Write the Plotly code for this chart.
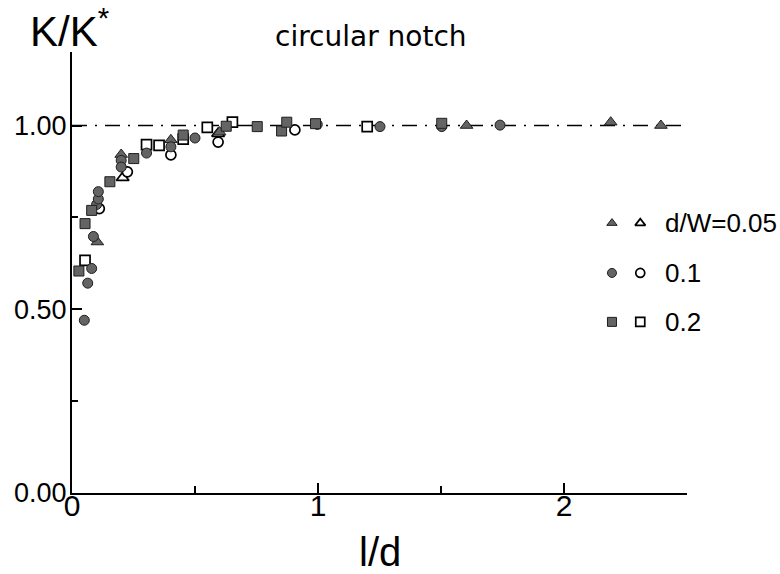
import plotly.graph_objects as go

# ---------------- data ----------------
# d/W = 0.05 (triangles)
tri_f_x = [0.103, 0.200, 0.402, 0.600, 1.604, 2.190, 2.394]
tri_f_y = [0.683, 0.921, 0.961, 0.982, 1.000, 1.009, 1.000]
tri_o_x = [0.206, 0.594]
tri_o_y = [0.858, 0.978]
# d/W = 0.1 (circles)
cir_f_x = [0.050, 0.064, 0.080, 0.087, 0.100, 0.107, 0.107, 0.200, 0.200, 0.303, 0.402, 0.500, 0.997, 1.252, 1.503, 1.740]
cir_f_y = [0.470, 0.571, 0.611, 0.698, 0.785, 0.800, 0.820, 0.905, 0.887, 0.925, 0.942, 0.966, 1.003, 0.997, 0.997, 1.001]
cir_o_x = [0.111, 0.225, 0.402, 0.594, 0.906]
cir_o_y = [0.774, 0.874, 0.920, 0.955, 0.988]
# d/W = 0.2 (squares)
sq_f_x = [0.028, 0.053, 0.080, 0.154, 0.251, 0.452, 0.627, 0.753, 0.852, 0.873, 0.990, 1.503]
sq_f_y = [0.604, 0.733, 0.769, 0.847, 0.910, 0.974, 0.998, 0.997, 0.985, 1.009, 1.005, 1.006]
sq_o_x = [0.053, 0.303, 0.354, 0.452, 0.550, 0.652, 1.200]
sq_o_y = [0.633, 0.948, 0.946, 0.963, 0.995, 1.009, 0.997]

# reference line K/K* = 1
ref_x = [0.0, 2.5]
ref_y = [1.0, 1.0]

x_ticks = [0, 1, 2]
x_minor = [0.5, 1.5, 2.5]
y_ticks = [0.0, 0.5, 1.0]
y_ticktext = ["0.00", "0.50", "1.00"]
y_minor = [0.25, 0.75]

legend_labels = ["d/W=0.05", "0.1", "0.2"]
legend_symbols = ["triangle-up", "circle", "square"]

# ---------------- style ----------------
FILL = "#646464"
FONT = "Liberation Sans"

def filled(sym, size):
    return dict(symbol=sym, size=size, color=FILL, line=dict(color="#1e1e1e", width=1))

def hollow(sym, size):
    return dict(symbol=sym, size=size, color="white", line=dict(color="black", width=1.7))

SIZES = {"triangle-up": 11, "circle": 10, "square": 10}

fig = go.Figure()

fig.add_trace(go.Scatter(x=ref_x, y=ref_y, mode="lines",
                         line=dict(color="black", width=1.5, dash="15px,8px,2px,8px"),
                         hoverinfo="skip"))

fig.add_trace(go.Scatter(x=tri_o_x, y=tri_o_y, mode="markers", marker=hollow("triangle-up", SIZES["triangle-up"])))
fig.add_trace(go.Scatter(x=cir_o_x, y=cir_o_y, mode="markers", marker=hollow("circle", SIZES["circle"])))
fig.add_trace(go.Scatter(x=sq_o_x, y=sq_o_y, mode="markers", marker=hollow("square", SIZES["square"])))
fig.add_trace(go.Scatter(x=tri_f_x, y=tri_f_y, mode="markers", marker=filled("triangle-up", SIZES["triangle-up"])))
fig.add_trace(go.Scatter(x=cir_f_x, y=cir_f_y, mode="markers", marker=filled("circle", SIZES["circle"])))
fig.add_trace(go.Scatter(x=sq_f_x, y=sq_f_y, mode="markers", marker=filled("square", SIZES["square"])))

# custom legend on an overlay axis spanning the plot area (0..1)
leg_x_f, leg_x_o, leg_x_t = 0.878, 0.924, 0.961
leg_rows = [0.612, 0.499, 0.388]
for lab, sym, ry in zip(legend_labels, legend_symbols, leg_rows):
    fig.add_trace(go.Scatter(x=[leg_x_f], y=[ry], mode="markers", marker=filled(sym, 9),
                             xaxis="x2", yaxis="y2", hoverinfo="skip"))
    fig.add_trace(go.Scatter(x=[leg_x_o], y=[ry], mode="markers", marker=hollow(sym, 9),
                             xaxis="x2", yaxis="y2", hoverinfo="skip"))
    fig.add_annotation(x=leg_x_t, y=ry, xref="x2", yref="y2", text=lab, showarrow=False,
                       xanchor="left", yanchor="middle", font=dict(family=FONT, size=26, color="black"))

fig.update_layout(
    width=780, height=574,
    margin=dict(l=72, r=93, t=52, b=81),
    paper_bgcolor="white", plot_bgcolor="white",
    showlegend=False,
    xaxis=dict(range=[0, 2.5], showline=True, linecolor="black", linewidth=2,
               showgrid=False, zeroline=False,
               tickvals=x_ticks, ticktext=[str(v) for v in x_ticks],
               ticks="inside", ticklen=10, tickwidth=1.5, tickcolor="black",
               minor=dict(tickvals=x_minor, ticks="inside", ticklen=7, tickwidth=1.5, tickcolor="black"),
               ticklabelstandoff=-15,
               tickfont=dict(family=FONT, size=30, color="black")),
    yaxis=dict(range=[0, 1.2], showline=True, linecolor="black", linewidth=2,
               showgrid=False, zeroline=False,
               tickvals=y_ticks, ticktext=y_ticktext,
               ticks="inside", ticklen=10, tickwidth=1.5, tickcolor="black",
               minor=dict(tickvals=y_minor, ticks="inside", ticklen=6, tickwidth=1.5, tickcolor="black"),
               ticklabelstandoff=-2,
               tickfont=dict(family=FONT, size=27, color="black")),
    xaxis2=dict(domain=[0, 1], range=[0, 1], overlaying="x", visible=False, anchor="y2"),
    yaxis2=dict(domain=[0, 1], range=[0, 1], overlaying="y", visible=False, anchor="x2"),
)

# axis titles & plot title as text
fig.add_annotation(x=-0.0715, y=1.054, xref="paper", yref="paper", showarrow=False,
                   xanchor="left", yanchor="middle", text="K/K<sup>*</sup>",
                   font=dict(family=FONT, size=42, color="black"))
fig.add_annotation(x=(273 - 72) / 615, y=(493 - 36) / 441, xref="paper", yref="paper", showarrow=False,
                   xanchor="left", yanchor="middle", text="circular notch",
                   font=dict(family="DejaVu Sans", size=28, color="black"))
fig.add_annotation(x=(380 - 72) / 615, y=(493 - 552) / 441, xref="paper", yref="paper", showarrow=False,
                   xanchor="center", yanchor="middle", text="l/d",
                   font=dict(family=FONT, size=40, color="black"))

fig.write_html("out.html")
